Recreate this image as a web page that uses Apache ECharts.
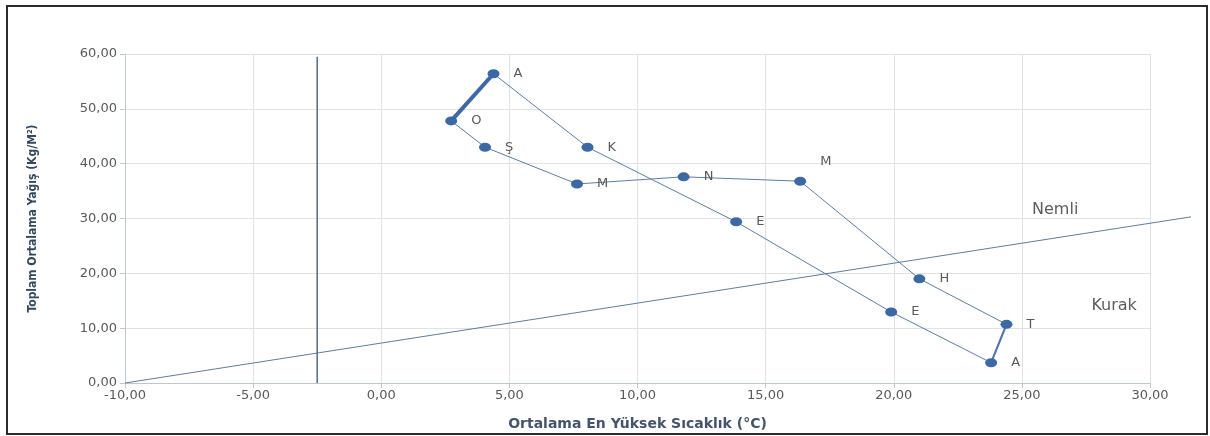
<!DOCTYPE html>
<html>
<head>
<meta charset="utf-8">
<script src="https://cdn.jsdelivr.net/npm/echarts@6/dist/echarts.min.js"></script>
<style>
  html, body { margin: 0; padding: 0; background: #fff; }
  #chart { width: 1210px; height: 436px; }
</style>
</head>
<body>
<div id="chart"></div>
<script>
// Aylar (Ocak -> Aralık)
var months = ['O', 'Ş', 'M', 'N', 'M', 'H', 'T', 'A', 'E', 'E', 'K', 'A'];
var temps = [2.73, 4.05, 7.64, 11.80, 16.35, 21.00, 24.40, 23.80, 19.90, 13.85, 8.05, 4.38];
var rain = [47.8, 43.0, 36.3, 37.6, 36.8, 19.0, 10.7, 3.7, 12.95, 29.4, 43.0, 56.4];

var xTicks = [-10, -5, 0, 5, 10, 15, 20, 25, 30];
var yTicks = [0, 10, 20, 30, 40, 50, 60];

// Kurak / Nemli ayırım çizgisi ve dikey çizgi
var divideLine = [[-10, 0], [31.6, 30.3]];
var verticalLine = [[-2.5, 0], [-2.5, 59.5]];

var zoneNames = ['Nemli', 'Kurak'];
var zonePos = [[26.3, 31.6], [28.6, 14.0]];

function fmt(v) {
  return v.toFixed(2).replace('.', ',');
}

var chart = echarts.init(document.getElementById('chart'));

var points = months.map(function (m, i) {
  return [temps[i], rain[i], m];
});

// Mayıs etiketi noktanın üstünde
var labelTweaks = { 4: { offset: [0, -20] } };

var pointData = points.map(function (p, i) {
  var item = { value: p };
  if (labelTweaks[i]) item.label = labelTweaks[i];
  return item;
});

var lineColor = '#5b7ca8';
var dotColor = '#3c68a3';

var option = {
  animation: false,
  grid: { left: 125, right: 60, top: 54, bottom: 53 },
  xAxis: {
    type: 'value',
    min: xTicks[0],
    max: xTicks[xTicks.length - 1],
    interval: 5,
    name: 'Ortalama En Yüksek Sıcaklık (°C)',
    nameLocation: 'middle',
    nameGap: 34,
    nameTextStyle: { fontFamily: 'DejaVu Sans', fontSize: 14, fontWeight: 'bold', color: '#44546a' },
    axisLine: { lineStyle: { color: '#bfc6d0' } },
    axisTick: { show: true, length: 5, lineStyle: { color: '#bfc6d0' } },
    axisLabel: { formatter: fmt, fontFamily: 'DejaVu Sans', fontSize: 13, color: '#595959', margin: 6 },
    splitLine: { lineStyle: { color: '#dfe3e8' } }
  },
  yAxis: {
    type: 'value',
    min: yTicks[0],
    max: yTicks[yTicks.length - 1],
    interval: 10,
    name: 'Toplam Ortalama Yağış (Kg/M²)',
    nameLocation: 'middle',
    nameGap: 86,
    nameTextStyle: { fontFamily: 'DejaVu Sans Condensed', fontSize: 12, fontWeight: 'bold', color: '#34495e' },
    axisLine: { show: true, onZero: false, lineStyle: { color: '#bfc6d0' } },
    axisTick: { show: true, length: 5, lineStyle: { color: '#bfc6d0' } },
    axisLabel: { formatter: fmt, fontFamily: 'DejaVu Sans', fontSize: 13, color: '#595959', margin: 8 },
    splitLine: { lineStyle: { color: '#dfe3e8' } }
  },
  series: [
    {
      type: 'line',
      data: verticalLine,
      symbol: 'none',
      lineStyle: { color: '#4f6c8a', width: 1.5 },
      z: 1
    },
    {
      // Aralık -> Ocak kapanış
      type: 'line',
      data: [points[11], points[0]],
      symbol: 'none',
      lineStyle: { color: dotColor, width: 4 },
      z: 2
    },
    {
      // Temmuz -> Ağustos
      type: 'line',
      data: [points[6], points[7]],
      symbol: 'none',
      lineStyle: { color: dotColor, width: 2 },
      z: 2
    },
    {
      type: 'line',
      data: pointData,
      symbol: 'circle',
      symbolSize: [12, 9],
      itemStyle: { color: dotColor },
      lineStyle: { color: lineColor, width: 1 },
      label: {
        show: true,
        position: 'right',
        distance: 14,
        formatter: function (p) { return p.value[2]; },
        fontFamily: 'DejaVu Sans',
        fontSize: 13,
        color: '#595959'
      },
      z: 3
    },
    {
      type: 'scatter',
      data: zonePos.map(function (p, i) { return [p[0], p[1], zoneNames[i]]; }),
      symbolSize: 0,
      label: {
        show: true,
        position: 'inside',
        formatter: function (p) { return p.value[2]; },
        fontFamily: 'DejaVu Sans',
        fontSize: 16,
        color: '#333333'
      },
      z: 4
    }
  ]
};

chart.setOption(option);

// Ayırım çizgisi eksen sınırının dışına taşıyor; grafik ölçeğiyle piksele çevrilip çiziliyor
var p0 = chart.convertToPixel({ gridIndex: 0 }, divideLine[0]);
var p1 = chart.convertToPixel({ gridIndex: 0 }, divideLine[1]);

chart.setOption({
  graphic: [
    {
      type: 'rect',
      shape: { x: 7, y: 6, width: 1200, height: 428 },
      style: { fill: 'none', stroke: '#2b2b2b', lineWidth: 2 },
      silent: true
    },
    {
      type: 'line',
      shape: { x1: p0[0], y1: p0[1], x2: p1[0], y2: p1[1] },
      style: { stroke: '#5d7d9c', lineWidth: 1 },
      silent: true,
      z: 1
    }
  ]
});
</script>
</body>
</html>
